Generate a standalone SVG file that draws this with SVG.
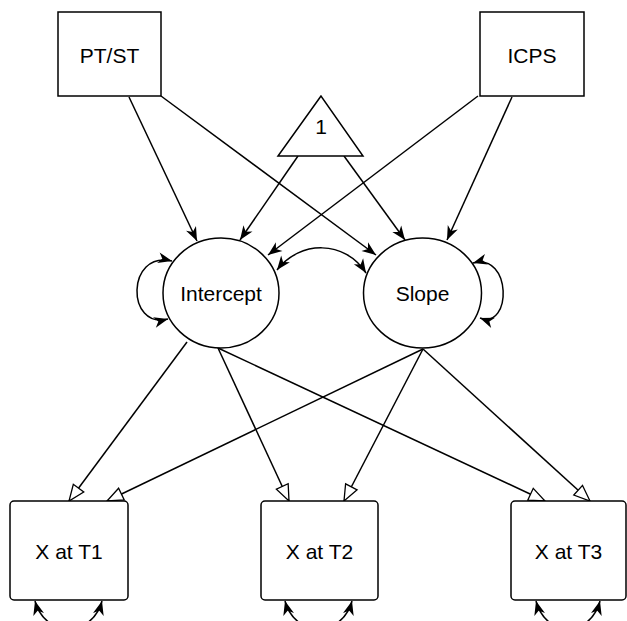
<svg xmlns="http://www.w3.org/2000/svg" width="627" height="621" viewBox="0 0 627 621">
<style>
.box{fill:#fff;stroke:#000;stroke-width:1.5}
.lat{fill:#fff;stroke:#000;stroke-width:1.5}
.lbl{font-family:"Liberation Sans",Arial,sans-serif;font-size:21px;fill:#000;text-anchor:middle}
.c{fill:none;stroke:#000;stroke-width:1.5}
.f{marker-end:url(#ah)}
.h{marker-end:url(#tri)}
.d{marker-start:url(#ah);marker-end:url(#ah)}
</style>
<defs>
<marker id="ah" refX="14" refY="5.5" markerUnits="userSpaceOnUse" markerWidth="15" markerHeight="12" orient="auto-start-reverse" overflow="visible">
<path d="M0,0 L14,5.5 L0,11 L4,5.5 z" fill="#000"/>
</marker>
<marker id="tri" refX="16" refY="6.5" markerUnits="userSpaceOnUse" markerWidth="18" markerHeight="14" orient="auto" overflow="visible">
<path d="M0,0 L16,6.5 L0,13 z" fill="#fff" stroke="#000" stroke-width="1.3" stroke-linejoin="miter"/>
</marker>
</defs>
<g id="connectors">
<path class="c f" d="M129,97 L197,241"/>
<path class="c f" d="M161,96 L376,255"/>
<path class="c f" d="M478,96 L268,255"/>
<path class="c f" d="M512,97 L447,240"/>
<path class="c f" d="M298,156 L240,240"/>
<path class="c f" d="M344,156 L405,240"/>
<path class="c d" d="M277,270 C300,240 345,240 366,273"/>
<path class="c d" d="M172,261 C126,250 126,330 168,319"/>
<path class="c d" d="M473,263 C512,252 512,330 480,318"/>
<path class="c h" d="M187,342 L69,501"/>
<path class="c h" d="M218,348 L289,501"/>
<path class="c h" d="M218,348 L545,501"/>
<path class="c h" d="M423,349 L107,501"/>
<path class="c h" d="M423,349 L344,501"/>
<path class="c h" d="M423,349 L590,501"/>
<path class="c d" d="M35,601 C45,638 92,638 102,601"/>
<path class="c d" d="M285,601 C295,638 342,638 352,601"/>
<path class="c d" d="M536,601 C546,638 590,638 600,601"/>
</g>
<g id="ptst"><rect class="box" x="58" y="12" width="103" height="84"/><text class="lbl" x="109.5" y="63">PT/ST</text></g>
<g id="icps"><rect class="box" x="480" y="12" width="104" height="84"/><text class="lbl" x="532" y="63">ICPS</text></g>
<g id="one"><polygon class="box" points="321,96 278,156 363,156"/><text class="lbl" x="321" y="134">1</text></g>
<g id="intercept"><ellipse class="lat" cx="221" cy="293" rx="58" ry="55"/><text class="lbl" x="221" y="301">Intercept</text></g>
<g id="slope"><ellipse class="lat" cx="422.5" cy="293" rx="59" ry="55"/><text class="lbl" x="422.5" y="301">Slope</text></g>
<g id="t1"><rect class="box" x="10" y="501" width="118" height="99" rx="4"/><text class="lbl" x="69" y="559">X at T1</text></g>
<g id="t2"><rect class="box" x="261" y="501" width="117" height="99" rx="4"/><text class="lbl" x="319.5" y="559">X at T2</text></g>
<g id="t3"><rect class="box" x="511" y="501" width="115" height="99" rx="4"/><text class="lbl" x="568.5" y="559">X at T3</text></g>
</svg>
